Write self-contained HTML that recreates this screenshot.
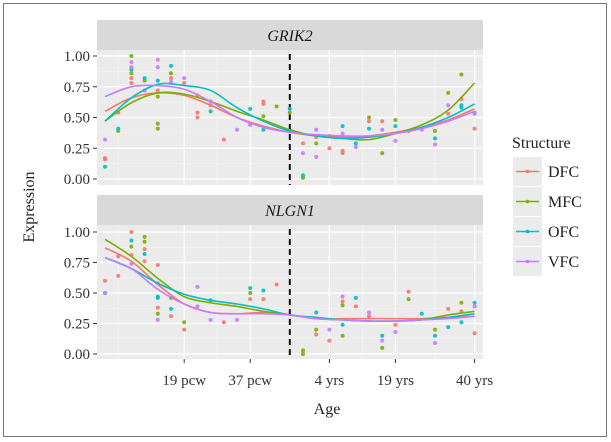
<!DOCTYPE html>
<html><head><meta charset="utf-8"><style>
html,body{margin:0;padding:0;background:#fff;}
svg{display:block;font-family:"Liberation Serif",serif;}
</style></head><body>
<svg id="chart" width="611" height="442" viewBox="0 0 611 442" xmlns="http://www.w3.org/2000/svg">
<rect x="3.5" y="3.5" width="603" height="433" fill="#fff" stroke="#777" stroke-width="1"/>
<g id="panels"></g>
<text x="34" y="207" font-size="16" fill="#222" text-anchor="middle" transform="rotate(-90 34 207)">Expression</text>
<text x="327" y="414" font-size="16" fill="#222" text-anchor="middle">Age</text>
<g>
<text x="512" y="148" font-size="16" fill="#222">Structure</text>
<g id="legend"></g>
</g>
</svg>
<script>
const structures=["DFC","MFC","OFC","VFC"];
const colors=["#F8766D","#7CAE00","#00BFC4","#C77CFF"];
const xTickPos=[6,11,17,22,28];
const xTickLabels=["19 pcw","37 pcw","4 yrs","19 yrs","40 yrs"];
const yTicks=[0,0.25,0.5,0.75,1];
const yTickLabels=["0.00","0.25","0.50","0.75","1.00"];
const birthPos=14;
const fitX=[0,2,4,6,8,10,12,14,16,18,20,22,24,26,28];
// GRIK2 fits
const grikFitDFC=[0.55,0.66,0.70,0.68,0.60,0.50,0.43,0.38,0.35,0.34,0.35,0.38,0.42,0.48,0.57];
const grikFitMFC=[0.47,0.62,0.70,0.69,0.63,0.55,0.48,0.40,0.35,0.33,0.32,0.37,0.44,0.56,0.78];
const grikFitOFC=[0.47,0.66,0.77,0.76,0.72,0.58,0.47,0.39,0.35,0.33,0.34,0.37,0.42,0.50,0.61];
const grikFitVFC=[0.67,0.75,0.76,0.73,0.63,0.50,0.42,0.38,0.36,0.35,0.35,0.37,0.41,0.47,0.55];
// NLGN1 fits
const nlgnFitDFC=[0.87,0.76,0.57,0.41,0.34,0.33,0.34,0.32,0.29,0.29,0.29,0.29,0.29,0.30,0.31];
const nlgnFitMFC=[0.94,0.80,0.62,0.47,0.42,0.39,0.35,0.32,0.29,0.28,0.27,0.27,0.28,0.32,0.35];
const nlgnFitOFC=[0.79,0.70,0.58,0.49,0.44,0.41,0.37,0.32,0.30,0.28,0.27,0.27,0.28,0.30,0.33];
const nlgnFitVFC=[0.79,0.70,0.53,0.41,0.34,0.33,0.33,0.32,0.29,0.28,0.27,0.27,0.28,0.29,0.31];
// GRIK2 points: [column, value]
const grikPtsDFC=[[0,0.17],[0,0.16],[1,0.54],[2,0.82],[2,0.78],[4,0.72],[5,0.82],[6,0.78],[7,0.68],[7,0.54],[7,0.5],[8,0.6],[9,0.32],[11,0.45],[12,0.63],[12,0.61],[15,0.29],[16,0.34],[17,0.25],[18,0.23],[18,0.21],[20,0.47],[21,0.47],[23,0.39],[26,0.53],[27,0.65],[28,0.41]];
const grikPtsMFC=[[1,0.39],[2,1.0],[2,0.86],[3,0.8],[4,0.67],[4,0.45],[4,0.41],[5,0.86],[12,0.51],[13,0.59],[14,0.54],[15,0.01],[16,0.29],[17,0.35],[20,0.5],[21,0.21],[22,0.48],[25,0.39],[26,0.7],[27,0.85]];
const grikPtsOFC=[[0,0.10],[1,0.41],[2,0.89],[3,0.82],[4,0.8],[5,0.92],[8,0.55],[11,0.57],[12,0.40],[14,0.57],[15,0.03],[18,0.43],[19,0.29],[20,0.41],[22,0.43],[25,0.33],[27,0.6],[27,0.58],[28,0.54]];
const grikPtsVFC=[[0,0.32],[2,0.95],[2,0.91],[3,0.72],[4,0.97],[4,0.91],[5,0.79],[6,0.82],[8,0.63],[10,0.40],[11,0.44],[15,0.21],[16,0.4],[16,0.18],[18,0.37],[19,0.26],[21,0.4],[22,0.31],[24,0.4],[25,0.28],[26,0.6],[28,0.53]];
// NLGN1 points
const nlgnPtsDFC=[[0,0.6],[1,0.8],[1,0.64],[2,1.0],[2,0.81],[3,0.86],[3,0.76],[4,0.73],[4,0.38],[5,0.31],[6,0.2],[9,0.26],[11,0.45],[12,0.45],[13,0.57],[16,0.16],[17,0.11],[18,0.43],[19,0.39],[20,0.31],[22,0.24],[23,0.51],[26,0.37],[27,0.35],[28,0.17]];
const nlgnPtsMFC=[[2,0.88],[3,0.96],[3,0.92],[4,0.33],[5,0.46],[6,0.26],[11,0.5],[15,0.03],[15,0.0],[16,0.2],[18,0.4],[18,0.15],[21,0.05],[23,0.45],[25,0.2],[27,0.42]];
const nlgnPtsOFC=[[0,0.5],[2,0.93],[3,0.82],[4,0.47],[4,0.46],[5,0.37],[8,0.44],[11,0.54],[12,0.52],[16,0.34],[18,0.24],[19,0.46],[21,0.15],[24,0.33],[25,0.15],[26,0.22],[27,0.26],[28,0.42]];
const nlgnPtsVFC=[[0,0.5],[2,0.74],[4,0.58],[4,0.28],[7,0.55],[7,0.39],[8,0.28],[10,0.28],[17,0.2],[18,0.47],[20,0.34],[21,0.11],[22,0.18],[25,0.09],[28,0.39]];

const NS="http://www.w3.org/2000/svg";
function mk(tag,attrs,parent){const e=document.createElementNS(NS,tag);for(const k in attrs)e.setAttribute(k,attrs[k]);parent.appendChild(e);return e;}
const X0=97,X1=483;
function xs(u){return 105+u*13.2;}
function catmull(pts){let d="M"+pts[0][0]+","+pts[0][1];for(let i=0;i<pts.length-1;i++){const p0=pts[i-1]||pts[i],p1=pts[i],p2=pts[i+1],p3=pts[i+2]||p2;d+=" C"+(p1[0]+(p2[0]-p0[0])/6)+","+(p1[1]+(p2[1]-p0[1])/6)+" "+(p2[0]-(p3[0]-p1[0])/6)+","+(p2[1]-(p3[1]-p1[1])/6)+" "+p2[0]+","+p2[1];}return d;}
const panelsG=document.getElementById('panels');
const panels=[
 {name:"GRIK2",stripTop:20,top:50,bottom:185,y1:56,y0:179,fits:[grikFitDFC,grikFitMFC,grikFitOFC,grikFitVFC],pts:[grikPtsDFC,grikPtsMFC,grikPtsOFC,grikPtsVFC],slug:"grik2"},
 {name:"NLGN1",stripTop:195,top:225,bottom:359,y1:232,y0:354,fits:[nlgnFitDFC,nlgnFitMFC,nlgnFitOFC,nlgnFitVFC],pts:[nlgnPtsDFC,nlgnPtsMFC,nlgnPtsOFC,nlgnPtsVFC],slug:"nlgn1"}
];
panels.forEach((p,pi)=>{
 const ys=v=>p.y0+(p.y1-p.y0)*v;
 const g=mk('g',{},panelsG);
 
 
 const strip=mk('rect',{x:X0,y:p.stripTop,width:X1-X0,height:p.top-p.stripTop,fill:"#d9d9d9"},g);
 
 
 const st=mk('text',{x:(X0+X1)/2,y:p.stripTop+21,"font-size":16,"font-style":"italic",fill:"#1a1a1a","text-anchor":"middle"},g);
 st.textContent=p.name;
 
 
 const bg=mk('rect',{x:X0,y:p.top,width:X1-X0,height:p.bottom-p.top,fill:"#ebebeb"},g);
 
 
 // minor y grid
 for(let i=0;i<yTicks.length-1;i++){const y=ys((yTicks[i]+yTicks[i+1])/2);mk('line',{x1:X0,x2:X1,y1:y,y2:y,stroke:"#f5f5f5","stroke-width":0.6},g);}
 // minor x grid
 const mx=[(xTickPos[0]-5)].concat(xTickPos.slice(0,-1).map((t,i)=>(t+xTickPos[i+1])/2));
 mx.forEach(u=>{const x=xs(u);if(x>X0)mk('line',{x1:x,x2:x,y1:p.top,y2:p.bottom,stroke:"#f5f5f5","stroke-width":0.6},g);});
 yTicks.forEach((t,i)=>{const y=ys(t);
  mk('line',{x1:X0,x2:X1,y1:y,y2:y,stroke:"#fff","stroke-width":1.2},g);
  mk('line',{x1:93,x2:97,y1:y,y2:y,stroke:"#333","stroke-width":1},g);
  const tl=mk('text',{x:90,y:y+5,"font-size":15,fill:"#333","text-anchor":"end"},g);
  tl.textContent=yTickLabels[i];
  
  
 });
 xTickPos.forEach((u,i)=>{const x=xs(u);
  mk('line',{x1:x,x2:x,y1:p.top,y2:p.bottom,stroke:"#fff","stroke-width":1.2},g);
  if(pi===1){
   mk('line',{x1:x,x2:x,y1:p.bottom,y2:p.bottom+4,stroke:"#333","stroke-width":1},g);
   const tl=mk('text',{x:x,y:385,"font-size":15,fill:"#333","text-anchor":"middle"},g);
   tl.textContent=xTickLabels[i];
   
   
  }
 });
 const bl=mk('line',{x1:xs(birthPos),x2:xs(birthPos),y1:p.top+4,y2:p.bottom,stroke:"#111","stroke-width":2,"stroke-dasharray":"6,4"},g);
 
 
 p.pts.forEach((arr,si)=>{arr.forEach(([u,v])=>{
  const c=mk('circle',{cx:xs(u),cy:ys(v),r:2,fill:colors[si],opacity:0.9},g);
  
  
 });});
 p.fits.forEach((arr,si)=>{
  const pts=arr.map((v,i)=>[xs(fitX[i]),ys(v)]);
  const l=mk('path',{d:catmull(pts),fill:"none",stroke:colors[si],"stroke-width":1.6},g);
  
  
 });
});
const lg=document.getElementById('legend');
structures.forEach((s,i)=>{
 const y=157+i*30;
 const e=mk('g',{},lg);
 
 
 mk('rect',{x:513,y:y,width:29,height:29,fill:"#ebebeb"},e);
 mk('line',{x1:516,x2:539,y1:y+14.5,y2:y+14.5,stroke:colors[i],"stroke-width":1.5},e);
 mk('circle',{cx:527.5,cy:y+14.5,r:1.8,fill:colors[i]},e);
 const t=mk('text',{x:548,y:y+20,"font-size":16,fill:"#222"},e);
 t.textContent=s;
});
</script>
</body></html>
